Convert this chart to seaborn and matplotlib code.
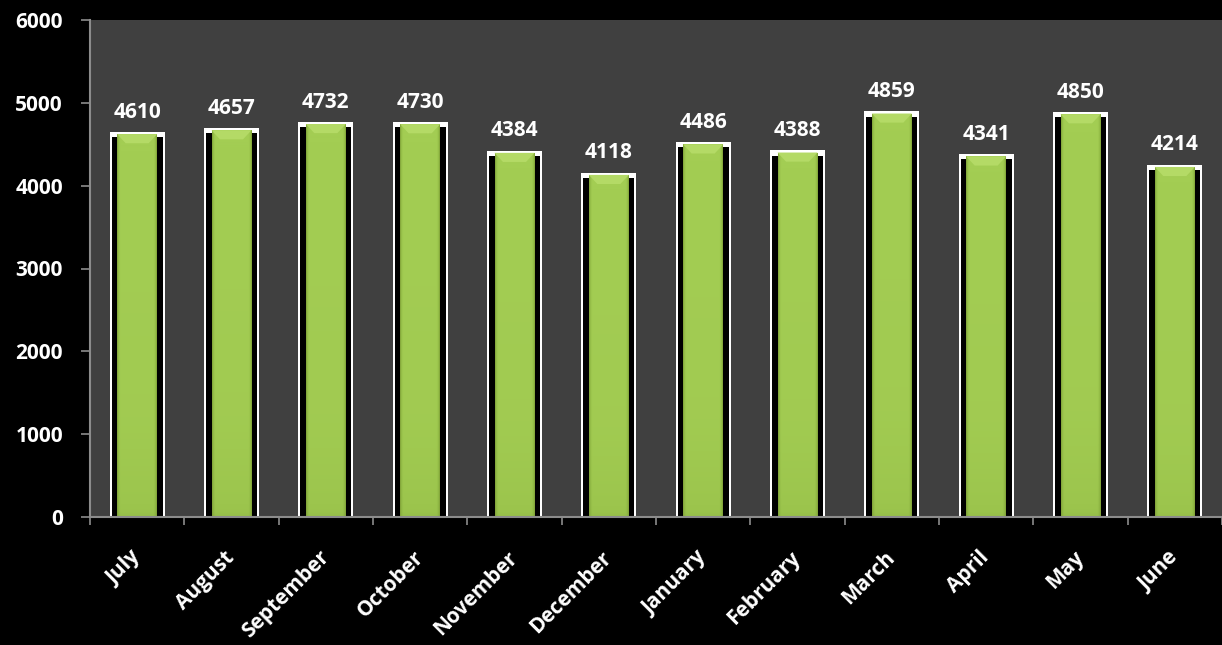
import matplotlib
matplotlib.use("Agg")
import matplotlib.pyplot as plt
import matplotlib.colors as mcolors
from matplotlib.patches import Polygon
import seaborn as sns
import numpy as np
import pandas as pd

months = ["July", "August", "September", "October", "November", "December",
          "January", "February", "March", "April", "May", "June"]
values = [4610, 4657, 4732, 4730, 4384, 4118, 4486, 4388, 4859, 4341, 4850, 4214]
y_ticks = [0, 1000, 2000, 3000, 4000, 5000, 6000]

df = pd.DataFrame({"month": months, "value": values})

sns.set_theme(style="dark")
plt.rcParams['font.family'] = ['Open Sans', 'DejaVu Sans']

fig = plt.figure(figsize=(12.22, 6.45), dpi=100, facecolor="black")
ax = fig.add_axes([90/1222, (645-517)/645, 1 - 90/1222, (517-20)/645])
ax.set_facecolor("#404040")

n = len(months)
# white outer frame
sns.barplot(data=df, x="month", y="value", order=months, color="white",
            width=0.585, saturation=1, ax=ax, errorbar=None, linewidth=0)
# black side shadow
sns.barplot(data=df, x="month", y="value", order=months, color="black",
            width=0.54, saturation=1, ax=ax, errorbar=None, linewidth=0)
# green core
sns.barplot(data=df, x="month", y="value", order=months, color="#9ac34b",
            width=0.424, saturation=1, ax=ax, errorbar=None, linewidth=0)

white = ax.patches[:n]
blk = ax.patches[n:2*n]
green = ax.patches[2*n:]
for p, v in zip(white, values):
    p.set_height(v + 40)
for p, v in zip(blk, values):
    p.set_height(v - 25)
for p, v in zip(green, values):
    p.set_height(v + 12)

# subtle gradient on green core: darker thin edges, darker towards bottom
cmap = mcolors.LinearSegmentedColormap.from_list("g", ["#7f9f37", "#8fb744", "#9cc54d", "#a3cd53"])
xs = np.linspace(0, 1, 80)
edge = np.clip(np.minimum(xs, 1 - xs) / 0.08, 0, 1)
for p in green:
    x0, w, h = p.get_x(), p.get_width(), p.get_height()
    ys = np.linspace(0, 1, 100)[:, None]
    vert = np.clip(ys / 0.25, 0, 1) * 0.35 + 0.65 * np.clip(ys, 0, 1) ** 0.3
    img = edge[None, :] ** 0.7 * (0.55 + 0.45 * vert) + 0.0
    im = ax.imshow(img, extent=[x0, x0 + w, 0, h], origin="lower", cmap=cmap,
                   vmin=0.0, vmax=1.0, aspect="auto", zorder=p.get_zorder() + 0.1,
                   interpolation="bilinear")
    im.set_clip_path(p)
    # top bevel highlight
    bh = 110.0
    inset = 0.09
    top = h
    bevel = Polygon([(x0, top), (x0 + w, top), (x0 + w - inset, top - bh),
                     (x0 + inset, top - bh)], closed=True, facecolor="#b4da66",
                    edgecolor="none", zorder=p.get_zorder() + 0.2)
    ax.add_patch(bevel)

for i, v in enumerate(values):
    ax.annotate(f"{v}", xy=(i, v), xytext=(0, 9), textcoords="offset points",
                ha="center", va="bottom", color="white", fontsize=15,
                fontweight="bold", zorder=5)

ax.set_xlim(-0.5, n - 0.5)
ax.set_ylim(0, 6000)
ax.set_aspect("auto")
ax.set_yticks(y_ticks)
ax.set_yticklabels([str(t) for t in y_ticks], color="white", fontsize=15,
                   fontweight="bold")
ax.set_xticks(range(n))
ax.set_xticklabels(months, rotation=45, ha="right", va="center",
                   rotation_mode="anchor", color="white", fontsize=15,
                   fontweight="bold")
ax.set_xticks(np.arange(-0.5, n, 1.0), minor=True)
ax.tick_params(axis="x", which="major", length=0, pad=27)
ax.tick_params(axis="x", which="minor", length=5.5, width=1.2, color="#8c8c8c",
               direction="out", bottom=True)
ax.tick_params(axis="y", length=6.5, width=1.2, color="#8c8c8c", direction="out",
               left=True, pad=13)
ax.set_xlabel("")
ax.set_ylabel("")
ax.grid(False)
for s in ["top", "right"]:
    ax.spines[s].set_visible(False)
for s in ["left", "bottom"]:
    ax.spines[s].set_visible(True)
    ax.spines[s].set_color("#8c8c8c")
    ax.spines[s].set_linewidth(1.5)
    ax.spines[s].set_zorder(6)

fig.savefig("out.png", dpi=100, facecolor="black")
